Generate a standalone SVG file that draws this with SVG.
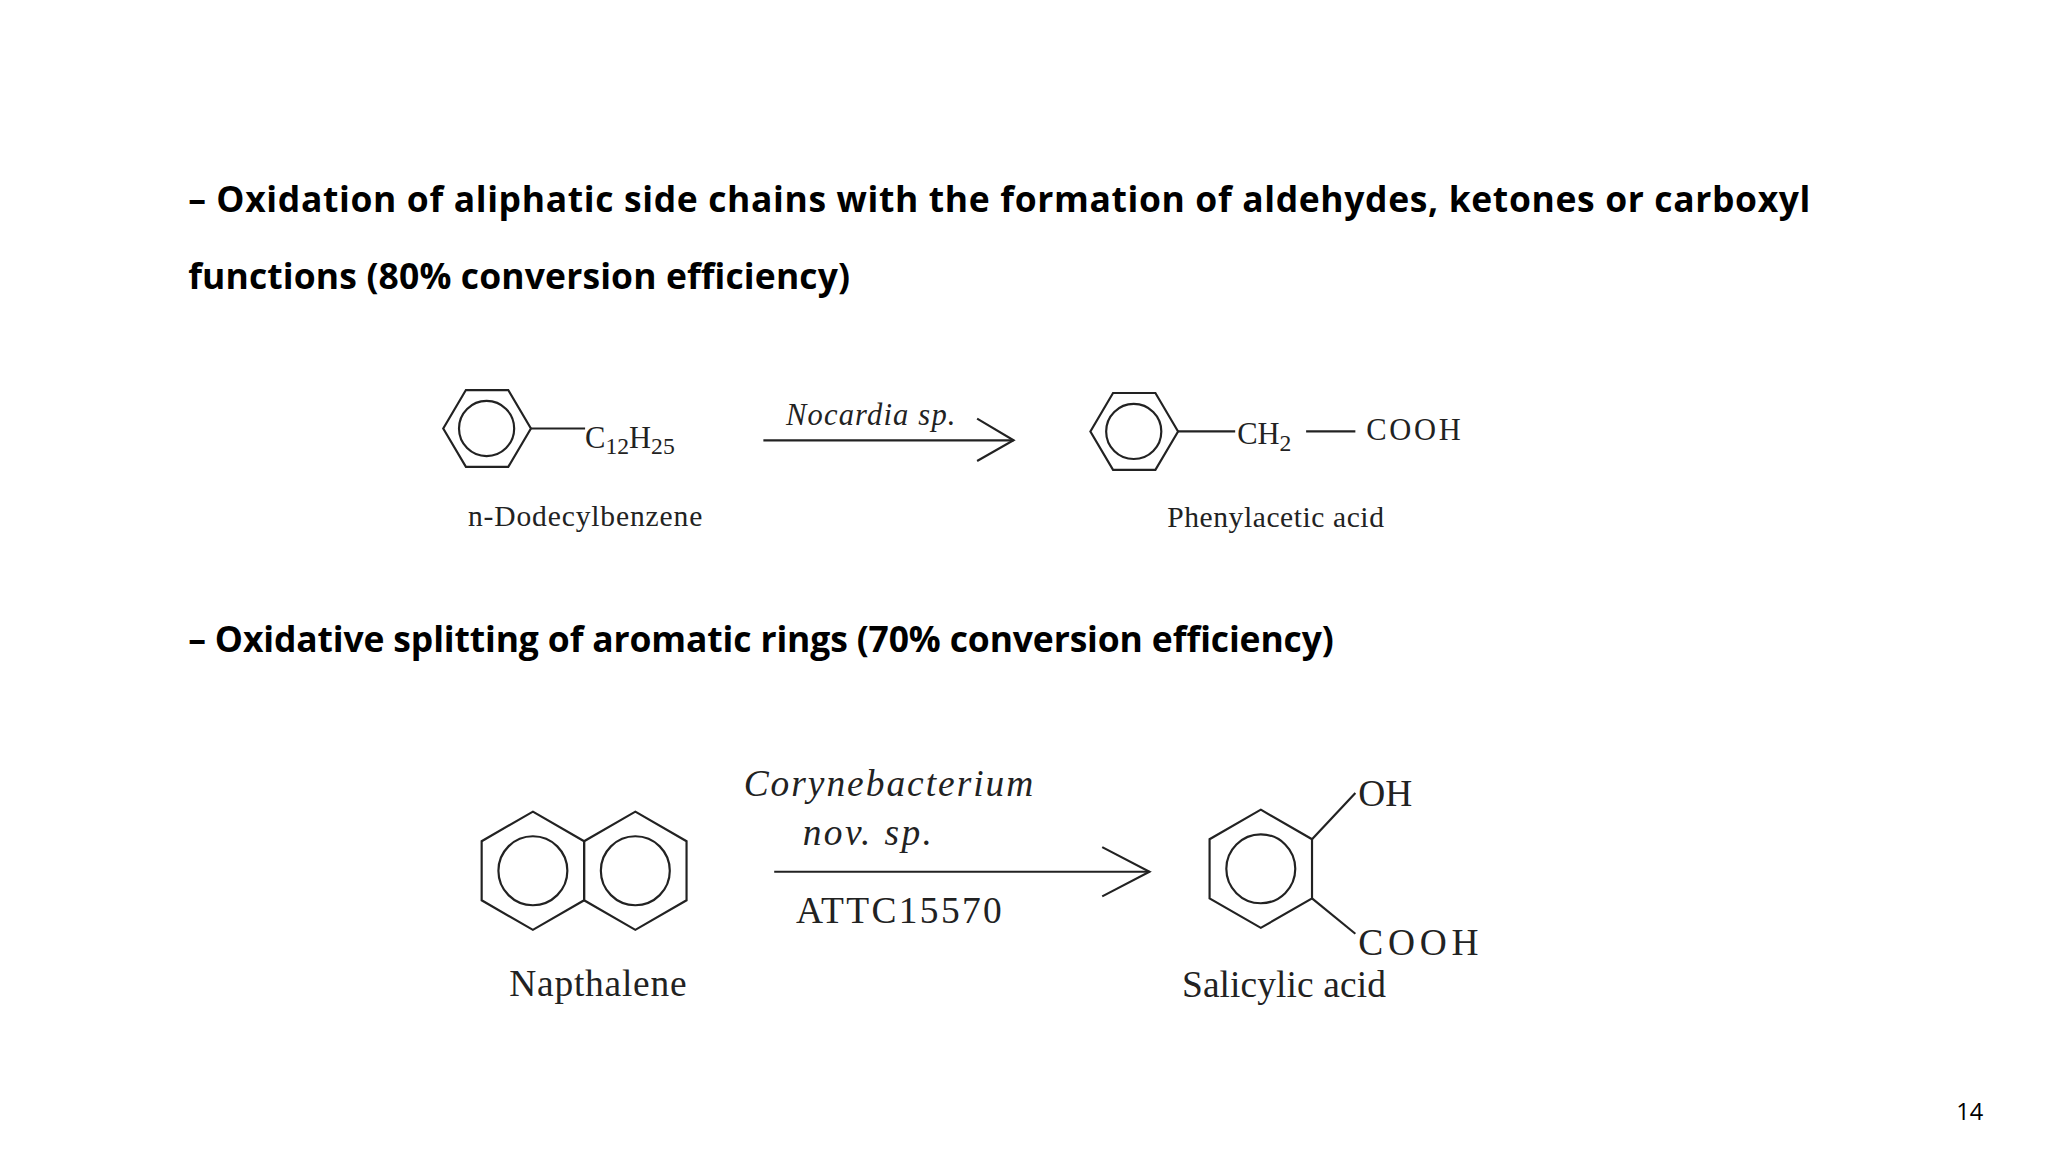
<svg xmlns="http://www.w3.org/2000/svg" width="2048" height="1152" viewBox="0 0 2048 1152">
<style>
.t{font-family:"Open Sans","Liberation Sans",sans-serif;font-weight:bold;font-size:36px;fill:#000}
.c{font-family:"Liberation Serif",serif;fill:#222}
.l{stroke:#222;stroke-width:2.2;fill:none}
</style>
<rect width="2048" height="1152" fill="#fff"/>
<g transform="scale(0.985)">
<text class="t" x="191" y="215" textLength="1647" lengthAdjust="spacing">– Oxidation of aliphatic side chains with the formation of aldehydes, ketones or carboxyl</text>
<text class="t" x="191" y="293" textLength="672" lengthAdjust="spacing">functions  (80% conversion efficiency)</text>
<text class="t" x="191" y="662" textLength="1163" lengthAdjust="spacing">– Oxidative splitting of aromatic rings (70% conversion efficiency)</text>
<g id="dodecylbenzene">
<polygon class="l" points="473,396 516,396 539,435 516,474 473,474 450,435"/>
<circle class="l" cx="494" cy="435" r="28"/>
<line class="l" x1="539" y1="435" x2="594" y2="435"/>
<text class="c" x="594" y="455" font-size="31">C<tspan font-size="24" dy="6">12</tspan><tspan dy="-6">H</tspan><tspan font-size="24" dy="6">25</tspan></text>
<text class="c" x="475" y="534" font-size="30" textLength="238">n-Dodecylbenzene</text>
</g>
<g id="phenylacetic">
<polygon class="l" points="1130,399 1173,399 1196,438 1173,477 1130,477 1107,438"/>
<circle class="l" cx="1151" cy="438" r="28"/>
<line class="l" x1="1196" y1="438" x2="1254" y2="438"/>
<text class="c" x="1256" y="451" font-size="31">CH<tspan font-size="24" dy="7">2</tspan></text>
<line class="l" x1="1326" y1="438" x2="1376" y2="438"/>
<text class="c" x="1387" y="447" font-size="31" textLength="96">COOH</text>
<text class="c" x="1185" y="535" font-size="30" textLength="220">Phenylacetic acid</text>
</g>
<g id="naphthalene">
<polygon class="l" points="541,824 593,854 593,914 541,944 489,914 489,854"/>
<polygon class="l" points="645,824 697,854 697,914 645,944 593,914 593,854"/>
<circle class="l" cx="541" cy="884" r="35"/>
<circle class="l" cx="645" cy="884" r="35"/>
<text class="c" x="517" y="1011" font-size="38" textLength="180">Napthalene</text>
</g>
<g id="salicylic">
<polygon class="l" points="1280,822 1332,852 1332,912 1280,942 1228,912 1228,852"/>
<circle class="l" cx="1280" cy="882" r="35"/>
<line class="l" x1="1332" y1="852" x2="1376" y2="805"/>
<line class="l" x1="1332" y1="912" x2="1376" y2="948"/>
<text class="c" x="1379" y="818" font-size="38">OH</text>
<text class="c" x="1379" y="970" font-size="38" textLength="122">COOH</text>
<text class="c" x="1200" y="1012" font-size="38" textLength="207">Salicylic acid</text>
</g>
<g id="connectors">
<line class="l" x1="775" y1="447" x2="1029" y2="447"/>
<polyline class="l" points="992,425 1029,447 992,468"/>
<text class="c" x="798" y="431" font-size="31" font-style="italic" textLength="172">Nocardia sp.</text>
<line class="l" x1="786" y1="885" x2="1167" y2="885"/>
<polyline class="l" points="1119,860 1167,885 1119,910"/>
<text class="c" x="755" y="808" font-size="38" font-style="italic" textLength="294">Corynebacterium</text>
<text class="c" x="815" y="858" font-size="38" font-style="italic" textLength="131">nov. sp.</text>
<text class="c" x="808" y="937" font-size="38" textLength="209">ATTC15570</text>
</g>
<text x="1986" y="1137" font-family="Open Sans,Liberation Sans,sans-serif" font-size="24" fill="#000">14</text>
</g>
</svg>
